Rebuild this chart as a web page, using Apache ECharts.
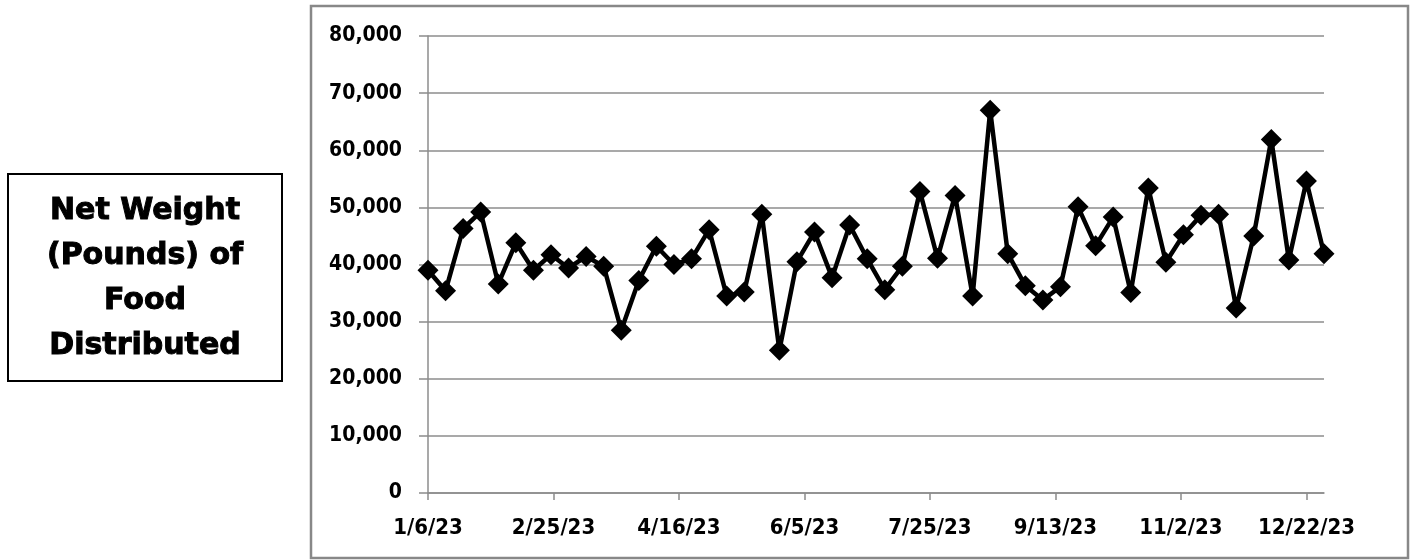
<!DOCTYPE html>
<html>
<head>
<meta charset="utf-8">
<script src="https://cdn.jsdelivr.net/npm/echarts@6/dist/echarts.min.js"></script>
<style>
html,body{margin:0;padding:0;background:#fff;}
#chart{width:1413px;height:560px;}
</style>
</head>
<body>
<div id="chart"></div>
<script>
// Week-ending dates (2023)
const dates = ['2023-01-06','2023-01-13','2023-01-20','2023-01-27','2023-02-03','2023-02-10','2023-02-17','2023-02-24',
 '2023-03-03','2023-03-10','2023-03-17','2023-03-24','2023-03-31','2023-04-07','2023-04-14','2023-04-21','2023-04-28',
 '2023-05-05','2023-05-12','2023-05-19','2023-05-26','2023-06-02','2023-06-09','2023-06-16','2023-06-23','2023-06-30',
 '2023-07-07','2023-07-14','2023-07-21','2023-07-28','2023-08-04','2023-08-11','2023-08-18','2023-08-25',
 '2023-09-01','2023-09-08','2023-09-15','2023-09-22','2023-09-29','2023-10-06','2023-10-13','2023-10-20','2023-10-27',
 '2023-11-03','2023-11-10','2023-11-17','2023-11-24','2023-12-01','2023-12-08','2023-12-15','2023-12-22','2023-12-29'];
// Net weight (pounds)
const pounds = [39000,35400,46300,49200,36600,43800,39000,41700,39400,41400,39700,28500,37200,43200,40000,41000,
 46100,34500,35200,48800,25000,40500,45700,37700,46900,41000,35600,39700,52800,41100,52100,34500,67000,41900,36300,
 33800,36100,50100,43300,48300,35100,53400,40400,45200,48600,48800,32400,45000,61900,40800,54600,41900];
// Axis ticks
const xTickDates = ['2023-01-06','2023-02-25','2023-04-16','2023-06-05','2023-07-25','2023-09-13','2023-11-02','2023-12-22'];
const yTicks = [0,10000,20000,30000,40000,50000,60000,70000,80000];
const boxLines = ['Net Weight','(Pounds) of','Food','Distributed'];

const DAY = 86400000;
const t0 = Date.UTC(2023,0,6);
function dayNum(s){const p=s.split('-');return (Date.UTC(+p[0],+p[1]-1,+p[2])-t0)/DAY;}
function fmtDay(v){const d=new Date(t0+v*DAY);return (d.getUTCMonth()+1)+'/'+d.getUTCDate()+'/'+String(d.getUTCFullYear()).slice(2);}
const seriesData = dates.map((d,i)=>[dayNum(d),pounds[i]]);
const xTicks = xTickDates.map(dayNum);

const fam = '"DejaVu Sans Condensed","DejaVu Sans",sans-serif';

const chart = echarts.init(document.getElementById('chart'),null,{renderer:'canvas'});
chart.setOption({
  animation:false,
  backgroundColor:'#fff',
  grid:{left:428,right:89,top:36,bottom:67,containLabel:false},
  xAxis:{
    type:'value',min:0,max:dayNum(dates[dates.length-1]),
    splitLine:{show:false},
    axisLine:{show:true,lineStyle:{color:'#8c8c8c',width:1.5}},
    axisTick:{show:true,length:7,lineStyle:{color:'#8c8c8c',width:1.5},customValues:xTicks},
    axisLabel:{margin:24,customValues:xTicks,formatter:v=>fmtDay(v),
      fontFamily:fam,fontWeight:'bold',fontSize:22,color:'#000'}
  },
  yAxis:{
    type:'value',min:yTicks[0],max:yTicks[yTicks.length-1],interval:10000,
    axisLine:{show:true,lineStyle:{color:'#8c8c8c',width:1.5}},
    axisTick:{show:true,length:9,lineStyle:{color:'#8c8c8c',width:1.5}},
    splitLine:{show:true,lineStyle:{color:'#8c8c8c',width:1.5}},
    axisLabel:{margin:26,formatter:v=>v.toLocaleString('en-US'),
      fontFamily:fam,fontWeight:'bold',fontSize:21,color:'#000'}
  },
  series:[{
    type:'line',data:seriesData,
    lineStyle:{color:'#000',width:4.5},
    itemStyle:{color:'#000'},
    symbol:'diamond',symbolSize:21,showSymbol:true
  }],
  graphic:[
    {type:'rect',shape:{x:311,y:6,width:1097,height:552},style:{fill:'none',stroke:'#888',lineWidth:2.5},silent:true},
    {type:'rect',shape:{x:8,y:174,width:274,height:207},style:{fill:'#fff',stroke:'#000',lineWidth:2},silent:true},
    {type:'text',x:145,y:279,style:{text:boxLines.join('\n'),align:'center',verticalAlign:'middle',
      font:'bold 30px "DejaVu Sans",sans-serif',lineHeight:45,fill:'#000',stroke:'#000',lineWidth:1}}
  ]
});
</script>
</body>
</html>
